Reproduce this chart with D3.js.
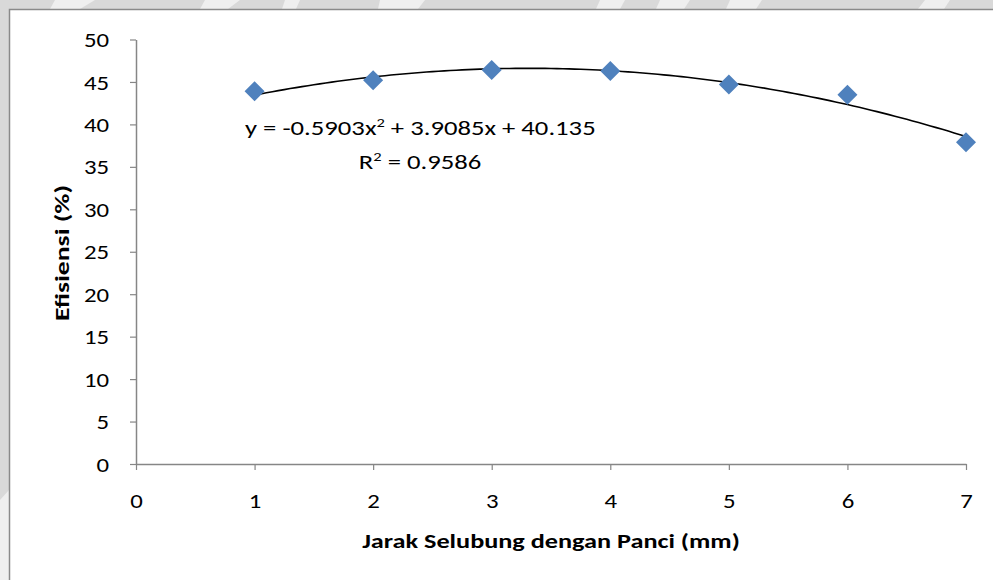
<!DOCTYPE html>
<html>
<head>
<meta charset="utf-8">
<script src="https://cdn.jsdelivr.net/npm/d3@7"></script>
<style>
  html, body { margin: 0; padding: 0; background: #fff; overflow: hidden; }
  svg { display: block; }
  text { font-family: Carlito, Calibri, Lato, "Open Sans", sans-serif; fill: #000; }
</style>
</head>
<body>
<svg id="chart" width="993" height="580"></svg>
<script>
// Efisiensi vs jarak selubung dengan panci
const jarak = [1, 2, 3, 4, 5, 6, 7];
const efisiensi = [43.9, 45.2, 46.4, 46.3, 44.7, 43.5, 37.9];
const xTicks = [0, 1, 2, 3, 4, 5, 6, 7];
const yTicks = [0, 5, 10, 15, 20, 25, 30, 35, 40, 45, 50];
// polynomial (order 2) trendline: a x^2 + b x + c
const trendCoef = [-0.5903, 3.9085, 40.135];
const rSquared = 0.9586;
const xTitle = "Jarak Selubung dengan Panci (mm)";
const yTitle = "Efisiensi (%)";

const svg = d3.select("#chart");
const W = 993, H = 580;
const plot = { left: 136, right: 966, top: 39.5, bottom: 464 };
const wide = 1.27;     // horizontal stretch of the lettering
const tickWide = 1.18;

// grey page margin with faint lighter shapes
svg.append("rect").attr("width", W).attr("height", H).attr("fill", "#d9d9d9");
const bg = svg.append("g");
[[[55,0],[95,0],[80,9],[50,9]], [[205,0],[240,0],[228,9],[200,9]], [[285,0],[300,0],[296,9],[282,9]],
 [[380,0],[425,0],[418,9],[378,9]], [[600,0],[625,0],[620,9],[596,9]], [[660,0],[690,0],[684,9],[656,9]],
 [[730,0],[762,0],[756,9],[726,9]], [[925,0],[950,0],[944,9],[918,9]],
 [[0,500],[9,490],[9,580],[0,580]]]
  .forEach(p => bg.append("polygon").attr("points", p.join(" ")).attr("fill", "#efefef"));

// chart area with border, running off the right and bottom edges
svg.append("rect")
  .attr("x", 9.5).attr("y", 9.5)
  .attr("width", W + 40).attr("height", H + 40)
  .attr("fill", "#fff").attr("stroke", "#8a8a8a").attr("stroke-width", 1.5);

const x = d3.scaleLinear().domain([0, 7]).range([plot.left, plot.right]);
const y = d3.scaleLinear().domain([0, 50]).range([plot.bottom, plot.top]);

const axisColor = "#868686";
const fontSize = 21;

// y axis
const gy = svg.append("g").attr("transform", `translate(${plot.left},0)`)
  .call(d3.axisLeft(y).tickValues(yTicks).tickFormat(d3.format("d")).tickSize(6).tickSizeOuter(0));
// x axis
const gx = svg.append("g").attr("transform", `translate(0,${plot.bottom})`)
  .call(d3.axisBottom(x).tickValues(xTicks).tickFormat(d3.format("d")).tickSize(6).tickSizeOuter(0));

[gx, gy].forEach(g => {
  g.select(".domain").attr("stroke", axisColor).attr("stroke-width", 1.5);
  g.selectAll(".tick line").attr("stroke", axisColor).attr("stroke-width", 1.2);
  g.selectAll(".tick text").attr("font-size", fontSize).attr("fill", "#000")
    .attr("font-family", "Carlito, Calibri, Lato, 'Open Sans', sans-serif");
});
gy.selectAll(".tick text").attr("x", 0).attr("dy", "0.34em")
  .attr("transform", `translate(-27,0) scale(${tickWide},1)`);
gx.selectAll(".tick text").attr("y", 0).attr("dy", 0)
  .attr("transform", `translate(0,44) scale(${tickWide},1)`);

// trendline from the fitted polynomial
const poly = t => trendCoef[0] * t * t + trendCoef[1] * t + trendCoef[2];
const xs = d3.range(jarak[0], jarak[jarak.length - 1] + 1e-9, 0.05);
svg.append("path")
  .datum(xs)
  .attr("fill", "none").attr("stroke", "#000").attr("stroke-width", 1.6)
  .attr("d", d3.line().x(d => x(d)).y(d => y(poly(d))));

// data markers (diamonds)
svg.append("g").selectAll("path")
  .data(jarak.map((j, i) => [j, efisiensi[i]]))
  .join("path")
  .attr("d", d3.symbol().type(d3.symbolSquare).size(200))
  .attr("transform", d => `translate(${x(d[0])},${y(d[1])}) rotate(45)`)
  .attr("fill", "#4f81bd");

// trendline equation label
const fmt = v => (v < 0 ? "-" : "") + Math.abs(v);
const eq = svg.append("text").attr("font-size", fontSize)
  .attr("transform", `translate(245,135) scale(${wide},1)`);
eq.append("tspan").text(`y = ${fmt(trendCoef[0])}x`);
eq.append("tspan").text("2").attr("font-size", 13).attr("dy", -8);
eq.append("tspan").text(` + ${trendCoef[1]}x + ${trendCoef[2]}`).attr("dy", 8);

const r = svg.append("text").attr("font-size", fontSize).attr("text-anchor", "middle")
  .attr("transform", `translate(420,169) scale(${wide},1)`);
r.append("tspan").text("R");
r.append("tspan").text("2").attr("font-size", 13).attr("dy", -8);
r.append("tspan").text(` = ${rSquared}`).attr("dy", 8);

// axis titles
svg.append("text").attr("text-anchor", "middle")
  .attr("transform", `translate(551,548) scale(1.28,1)`)
  .attr("font-size", 20.5).attr("font-weight", "bold").text(xTitle);
svg.append("text").attr("text-anchor", "middle")
  .attr("transform", "translate(69,253) rotate(-90) scale(1.35,1)")
  .attr("font-size", 20.5).attr("font-weight", "bold").text(yTitle);
</script>
</body>
</html>
